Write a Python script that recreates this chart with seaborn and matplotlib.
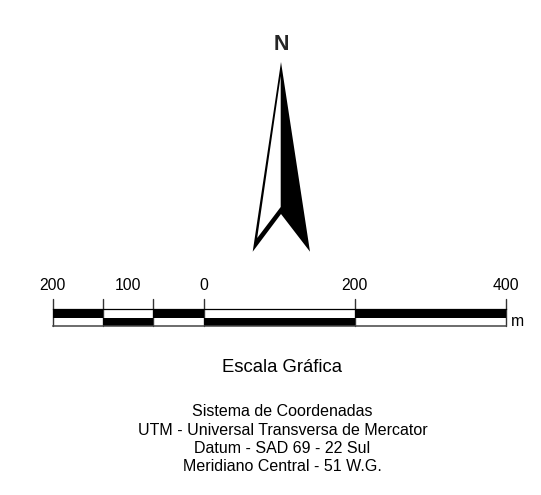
import matplotlib
matplotlib.use("Agg")
import matplotlib.pyplot as plt
from matplotlib.colors import ListedColormap
import seaborn as sns

# scale bar, in metres (left part is subdivided into thirds of 200)
seg_edges = [-200, -133.3, -66.7, 0, 200, 400]
top_black = [1, 0, 1, 0, 1]
bottom_black = [0, 1, 0, 1, 0]
tick_values = [-200, -133.3, -66.7, 0, 200, 400]
label_values = [-200, -100, 0, 200, 400]
label_text = ["200", "100", "0", "200", "400"]

notes = [
    "Sistema de Coordenadas",
    "UTM - Universal Transversa de Mercator",
    "Datum - SAD 69 - 22 Sul",
    "Meridiano Central - 51 W.G.",
]

W, H = 541, 495

sns.set_theme(style="white")
plt.rcParams["font.family"] = ["Liberation Sans", "DejaVu Sans"]
plt.rcParams["text.color"] = "black"

fig = plt.figure(figsize=(W / 100, H / 100), dpi=100)

# full page axes in pixel coordinates, for arrow and text
page = fig.add_axes([0, 0, 1, 1])
page.set_xlim(0, W)
page.set_ylim(H, 0)
page.axis("off")

page.fill([281, 310, 281, 252.7], [62, 251.7, 214, 251.7], color="black", lw=0)
page.fill([280.7, 280.7, 257.2], [76, 207, 238], color="white", lw=0)
page.text(281, 44.5, "N", ha="center", va="center", fontsize=15.5, weight="bold",
          stretch="normal", alpha=0.85)

# scale bar axes: x is metres, y is row (0 bottom, 1 top)
x0, x1 = 52.5, 506
y_top, y_bot = 309.3, 325.7
bar = fig.add_axes([x0 / W, 1 - y_bot / H, (x1 - x0) / W, (y_bot - y_top) / H])
bar.patch.set_alpha(0)

mids = [(a + b) / 2 for a, b in zip(seg_edges[:-1], seg_edges[1:])]
row_x = mids + mids
row_y = [0.25] * len(mids) + [0.75] * len(mids)
row_w = bottom_black + top_black
sns.histplot(x=row_x, y=row_y, weights=row_w, bins=[seg_edges, [0, 0.45, 1]],
             cmap=ListedColormap(["black"]), thresh=0.5, ax=bar)
bar.set_xlim(-200, 400)
bar.set_ylim(0, 1)
bar.set_xticks([])
bar.set_yticks([])
bar.set_xlabel("")
bar.set_ylabel("")
sns.despine(ax=bar, left=True, right=True, top=False, bottom=False)
bar.spines["top"].set_color("black")
bar.spines["top"].set_linewidth(0.9)
bar.spines["bottom"].set_color("#444444")
bar.spines["bottom"].set_linewidth(1.1)

# ticks and labels go in page coordinates
to_px = lambda v: x0 + (v + 200) / 600 * (x1 - x0)
for v in tick_values:
    page.plot([to_px(v)] * 2, [299, y_bot], color="#333333", lw=1.0, zorder=3)
for v, t in zip(label_values, label_text):
    page.text(to_px(v), 285, t, ha="center", va="center", fontsize=11.3)
page.text(517, 322, "m", ha="center", va="center", fontsize=11.3)

page.text(282, 367, "Escala Gráfica", ha="center", va="center", fontsize=13.3)
for i, line in enumerate(notes):
    page.text(282.5, 412 + i * 18.3, line, ha="center", va="center", fontsize=11.5)

fig.savefig("out.png", dpi=100)
